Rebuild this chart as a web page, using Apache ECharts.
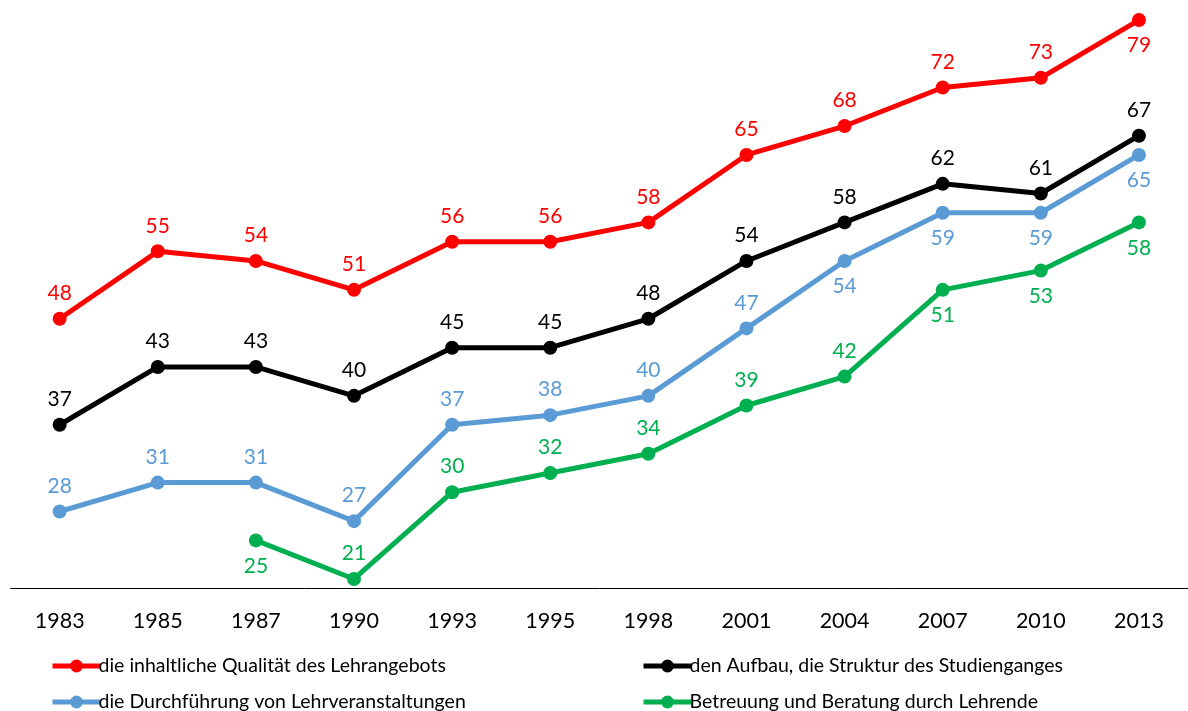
<!DOCTYPE html>
<html><head><meta charset="utf-8">
<script src="https://cdn.jsdelivr.net/npm/echarts@6/dist/echarts.min.js"></script>
<style>html,body{margin:0;padding:0;background:#fff}#c{width:1188px;height:711px}</style>
</head><body><div id="c"></div>
<script>
const years = ['1983','1985','1987','1990','1993','1995','1998','2001','2004','2007','2010','2013'];
const seriesNames = ['die inhaltliche Qualität des Lehrangebots','den Aufbau, die Struktur des Studienganges','die Durchführung von Lehrveranstaltungen','Betreuung und Beratung durch Lehrende'];
const qualitaet = [48,55,54,51,56,56,58,65,68,72,73,79];
const aufbau = [37,43,43,40,45,45,48,54,58,62,61,67];
const durchfuehrung = [28,31,31,27,37,38,40,47,54,59,59,65];
const betreuung = [null,null,25,21,30,32,34,39,42,51,53,58];
const colors = ['#FF0000','#000000','#5B9BD5','#00B050'];
const labelSide = [
  ['top','top','top','top','top','top','top','top','top','top','top','bottom'],
  ['top','top','top','top','top','top','top','top','top','top','top','top'],
  ['top','top','top','top','top','top','top','top','bottom','bottom','bottom','bottom'],
  ['top','top','bottom','top','top','top','top','top','top','bottom','bottom','bottom']
];
const FONT = 'Lato';
const values = [qualitaet, aufbau, durchfuehrung, betreuung];
const chart = echarts.init(document.getElementById('c'));
const series = values.map((arr, i) => ({
  name: seriesNames[i],
  type: 'line',
  data: arr.map((v, j) => v == null ? null : ({value: v, label: {position: labelSide[i][j]}})),
  symbol: 'circle',
  symbolSize: 14,
  lineStyle: {width: 5, color: colors[i]},
  itemStyle: {color: colors[i]},
  label: {show: true, distance: 8, color: colors[i], fontFamily: FONT, fontSize: 21},
  emphasis: {disabled: true},
  animation: false
}));
const legendPos = [[45, 651], [636, 651], [45, 687], [636, 687]];
const legends = seriesNames.map((n, i) => ({
  data: [n], orient: 'horizontal', left: legendPos[i][0], top: legendPos[i][1],
  itemWidth: 48, itemHeight: 16, itemGap: 0,
  lineStyle: {width: 5},
  textStyle: {color: '#000', fontFamily: FONT, fontSize: 19.5, padding: [0, 0, 0, -7]}
}));
chart.setOption({
  backgroundColor: '#fff',
  animation: false,
  grid: {left: 10.6, right: -8.4, top: 10.4, bottom: 122.4, containLabel: false},
  xAxis: {
    type: 'category', data: years, boundaryGap: true,
    axisLine: {lineStyle: {color: '#000', width: 1}},
    axisTick: {show: false},
    axisLabel: {color: '#000', fontFamily: FONT, fontSize: 21.5, margin: 21}
  },
  yAxis: {type: 'value', min: 20, max: 80, show: false, splitLine: {show: false}},
  legend: legends,
  series: series
});
</script></body></html>
